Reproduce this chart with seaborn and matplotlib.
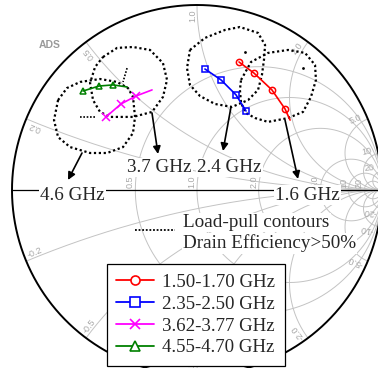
import numpy as np
import pandas as pd
import matplotlib
matplotlib.use("Agg")
import matplotlib.pyplot as plt
import seaborn as sns
from matplotlib.lines import Line2D

# ---- load trajectories, reflection coefficient (real / imaginary) ----
freq_a = [1.50, 1.55, 1.60, 1.65, 1.70]
gam_a_re = [0.227, 0.308, 0.405, 0.476, 0.503]
gam_a_im = [0.692, 0.632, 0.541, 0.438, 0.378]

freq_b = [2.35, 2.40, 2.45, 2.50]
gam_b_re = [0.043, 0.130, 0.211, 0.265]
gam_b_im = [0.654, 0.595, 0.514, 0.427]

freq_c = [3.62, 3.67, 3.72, 3.77]
gam_c_re = [-0.492, -0.411, -0.330, -0.243]
gam_c_im = [0.395, 0.465, 0.508, 0.541]

freq_d = [4.55, 4.60, 4.65, 4.70]
gam_d_re = [-0.616, -0.530, -0.454, -0.378]
gam_d_im = [0.535, 0.562, 0.568, 0.557]

band_labels = ["1.50-1.70 GHz", "2.35-2.50 GHz", "3.62-3.77 GHz", "4.55-4.70 GHz"]
marked_count = [4, 4, 3, 3]

# ---- load-pull contours (drain efficiency > 50 %) ----
cont_16_re = [0.238, 0.292, 0.384, 0.492, 0.584, 0.638, 0.643, 0.616, 0.573,
              0.492, 0.384, 0.314, 0.265, 0.238, 0.232]
cont_16_im = [0.595, 0.692, 0.741, 0.757, 0.741, 0.676, 0.595, 0.503, 0.422,
              0.389, 0.368, 0.389, 0.416, 0.470, 0.541]

cont_24_re = [-0.038, 0.043, 0.151, 0.232, 0.330, 0.368, 0.362, 0.351, 0.330,
              0.276, 0.189, 0.097, 0.016, -0.038, -0.054]
cont_24_im = [0.757, 0.822, 0.865, 0.881, 0.849, 0.784, 0.703, 0.622, 0.541,
              0.486, 0.449, 0.465, 0.508, 0.568, 0.659]

cont_37_re = [-0.508, -0.432, -0.346, -0.254, -0.184, -0.162, -0.184, -0.243,
              -0.346, -0.470, -0.524, -0.562, -0.578, -0.551]
cont_37_im = [0.719, 0.768, 0.773, 0.757, 0.686, 0.595, 0.503, 0.422,
              0.395, 0.395, 0.422, 0.486, 0.578, 0.665]

cont_46_re = [-0.751, -0.703, -0.632, -0.524, -0.432, -0.373, -0.346, -0.335,
              -0.346, -0.400, -0.486, -0.578, -0.686, -0.751, -0.773]
cont_46_im = [0.486, 0.551, 0.584, 0.600, 0.584, 0.551, 0.503, 0.395,
              0.308, 0.232, 0.200, 0.200, 0.232, 0.286, 0.378]

# optimum marks inside the contours
opt_16_re, opt_16_im = [0.573], [0.659]
opt_24_re, opt_24_im = [0.259], [0.746]
opt_37_re, opt_37_im = [-0.378, -0.400], [0.659, 0.584]
opt_46_re, opt_46_im = [-0.632, -0.546], [0.395, 0.395]

# Smith chart grid values
r_grid = [0.5, 1.0, 2.0, 5.0, 10.0, 20.0]
x_grid = [0.2, 0.5, 1.0, 2.0, 5.0, 10.0, 20.0]
r_text = ["0.5", "1.0", "2.0", "5.0", "10", "20"]
x_text = ["0.2", "0.5", "1.0", "2.0", "5.0", "10", "20"]

# ------------------------------------------------------------------
sns.set_theme(style="white")
plt.rcParams["font.family"] = ["Liberation Serif", "DejaVu Serif"]

W, H = 378, 368
CX, CY, RAD = 197.0, 190.0, 185.0
fig = plt.figure(figsize=(W / 100, H / 100), dpi=100)
ax = fig.add_axes([0, 0, 1, 1])
ax.set_xlim(-CX / RAD, (W - CX) / RAD)
ax.set_ylim((CY - H) / RAD, CY / RAD)
ax.axis("off")


def px(x, y):
    return ((x - CX) / RAD, (CY - y) / RAD)


def gamma(z):
    return (z - 1) / (z + 1)


GRID = "#c3c3c3"
LBL = "#a8a8a8"
s = np.linspace(-np.pi / 2 + 1e-4, np.pi / 2 - 1e-4, 3000)
for r in r_grid:
    g = gamma(r + 1j * np.tan(s))
    ax.plot(g.real, g.imag, color=GRID, lw=0.7, zorder=1)
u = np.linspace(0, np.pi / 2 - 1e-4, 3000)
for xv in x_grid:
    for sg in (1, -1):
        g = gamma(np.tan(u) + 1j * sg * xv)
        ax.plot(g.real, g.imag, color=GRID, lw=0.7, zorder=1)

# reactance labels along the rim
d = 11 / RAD
for xv, t in zip(x_grid, x_text):
    for sg in (1, -1):
        z0 = 1j * sg * xv
        g0 = gamma(z0)
        dr = 2 / (z0 + 1) ** 2
        dr = dr / abs(dr)
        ang = np.degrees(np.angle(dr))
        p = g0 + dr * d
        rot = ang + 180 if sg > 0 else ang
        ax.text(p.real, p.imag, t if sg > 0 else "-" + t, rotation=rot,
                rotation_mode="anchor", ha="center", va="bottom",
                fontsize=6.5, color=LBL, family="Liberation Sans", zorder=1)
# resistance labels on the real axis
for r, t in zip(r_grid, r_text):
    g0 = gamma(r)
    ax.text(g0 - 0.5 / RAD, 1.5 / RAD, t, rotation=90, rotation_mode="anchor",
            ha="left", va="bottom", fontsize=6.5, color=LBL,
            family="Liberation Sans", zorder=1)

# chart rim and real axis
t = np.linspace(0, 2 * np.pi, 720)
ax.plot(np.cos(t), np.sin(t), color="black", lw=1.4, zorder=2)
ax.plot([-1, 1], [0, 0], color="black", lw=0.9, zorder=2)

ax.text(*px(50, 45), "ADS", fontsize=7.5, color="#9a9a9a", fontweight="bold",
        family="Liberation Sans", ha="center", va="center")

# load-pull contours
dotted = (0, (1, 1.2))
for cre, cim in [(cont_16_re, cont_16_im), (cont_24_re, cont_24_im),
                 (cont_37_re, cont_37_im), (cont_46_re, cont_46_im)]:
    cdf = pd.DataFrame({"re": cre + cre[:1], "im": cim + cim[:1]})
    sns.lineplot(data=cdf, x="re", y="im", sort=False, estimator=None, ax=ax,
                 color="black", lw=1.6, linestyle=dotted, zorder=3)
for ore, oim in [(opt_16_re, opt_16_im), (opt_24_re, opt_24_im)]:
    sns.scatterplot(x=ore, y=oim, ax=ax, color="black", s=4, linewidth=0, zorder=3)
for ore, oim in [(opt_37_re, opt_37_im), (opt_46_re, opt_46_im)]:
    sns.lineplot(x=ore, y=oim, ax=ax, sort=False, estimator=None, color="black",
                 lw=1.2, linestyle=(0, (1, 1)), zorder=3)

# trajectories
colors = ["#ff0000", "#0000ff", "#ff00ff", "#008000"]
markers = ["o", "s", "x", "^"]
msizes = [4.5, 4.5, 5.5, 4.8]
series = [(freq_a, gam_a_re, gam_a_im), (freq_b, gam_b_re, gam_b_im),
          (freq_c, gam_c_re, gam_c_im), (freq_d, gam_d_re, gam_d_im)]
for (fr, gre, gim), c, m, ms, nm in zip(series, colors, markers, msizes, marked_count):
    df = pd.DataFrame({"freq": fr, "re": gre, "im": gim})
    sns.lineplot(data=df, x="re", y="im", sort=False, estimator=None, ax=ax,
                 color=c, lw=1.2, marker=m, markersize=ms, markerfacecolor="none",
                 markeredgecolor=c, markeredgewidth=1.1,
                 markevery=list(range(nm)), zorder=4)

# arrows from contours to their labels
arrows = [((82, 153), (68, 180)), ((152, 113), (158, 154)),
          ((231, 107), (223, 151)), ((285, 120), (298, 179))]
for tail, head in arrows:
    ax.annotate("", xy=px(*head), xytext=px(*tail),
                arrowprops=dict(arrowstyle="-|>", color="black", lw=1.2,
                                mutation_scale=11, shrinkA=0, shrinkB=0),
                zorder=5)

box = dict(facecolor="white", edgecolor="none", pad=1.0)
FS = 13.8
for (x, y), txt in [((40, 199.5), "4.6 GHz"), ((275, 199.5), "1.6 GHz"),
                    ((127, 172), "3.7 GHz"), ((197, 172), "2.4 GHz")]:
    ax.text(*px(x, y), txt, fontsize=FS, ha="left", va="baseline", bbox=box,
            zorder=6)

# contour key
ax.plot(*zip(px(135, 230), px(175, 230)), color="black", lw=1.3,
        linestyle=(0, (1, 1)), zorder=6)
ax.text(*px(183, 227), "Load-pull contours", fontsize=FS, ha="left",
        va="baseline", bbox=box, zorder=6)
ax.text(*px(183, 248.5), "Drain Efficiency>50%", fontsize=FS, ha="left",
        va="baseline", bbox=box, zorder=6)

handles = [Line2D([], [], color=c, marker=m, lw=1.3, markersize=6.5,
                  markerfacecolor="white", markeredgecolor=c, markeredgewidth=1.2)
           for c, m in zip(colors, markers)]
leg = ax.legend(handles, band_labels, loc="upper left",
                bbox_to_anchor=(107 / W, 1 - 264 / H), bbox_transform=fig.transFigure,
                frameon=True, fancybox=False, framealpha=1, edgecolor="black",
                prop=dict(family="Liberation Serif", size=13.6),
                handlelength=2.0, handletextpad=0.42, borderpad=0.5,
                labelspacing=0.25, borderaxespad=0)
leg.get_frame().set_linewidth(0.9)
leg.set_zorder(10)

fig.savefig("out.png", dpi=100)
